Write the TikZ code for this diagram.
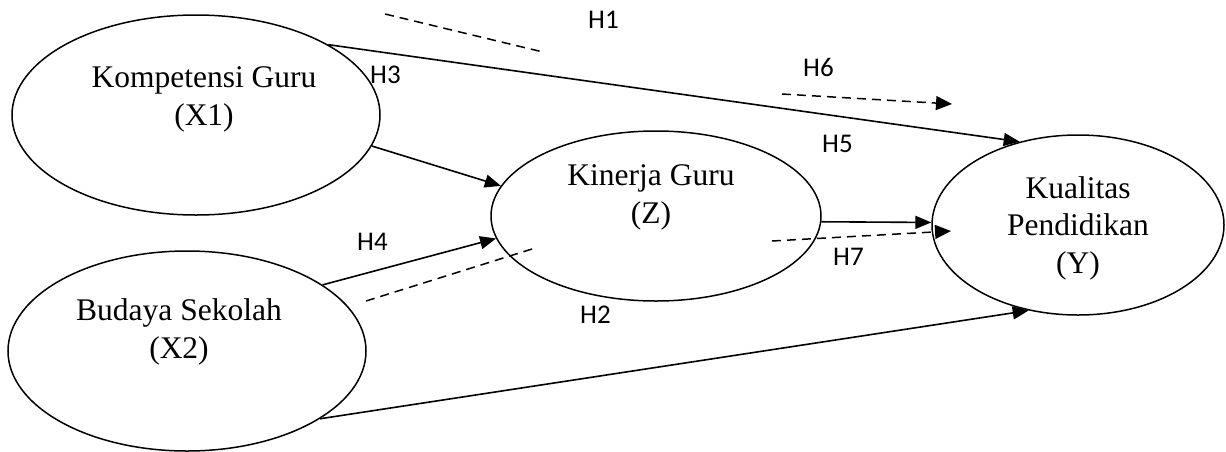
\documentclass[tikz,border=0pt]{standalone}
\usepackage{fontspec}
\setmainfont{Liberation Serif}
\newfontfamily\labelfont{Carlito}
\usetikzlibrary{shapes.geometric,arrows.meta}

\tikzset{
  construct/.style={draw, ellipse, line width=1.5pt, inner sep=0pt},
  ctext/.style={align=center, anchor=base, inner sep=0pt,
    font=\fontsize{31.5}{37.5}\selectfont},
  hyp/.style={anchor=base west, inner sep=0pt,
    font=\labelfont\fontsize{27}{30}\selectfont},
  path/.style={line width=1.6pt, -{Triangle[length=16pt,width=13pt]}},
  dashline/.style={line width=1.5pt, dash pattern=on 9pt off 6pt},
  dasharrow/.style={dashline, -{Triangle[length=16pt,width=14pt]}}
}

\begin{document}
\begin{tikzpicture}[x=1pt, y=-1pt]
  \useasboundingbox (0,0) rectangle (1226,451);

  % latent constructs
  \node[construct, minimum width=368pt, minimum height=200pt] (x1) at (196,115) {};
  \node[construct, minimum width=358pt, minimum height=200pt] (x2) at (187,351) {};
  \node[construct, minimum width=330pt, minimum height=170pt] (z)  at (656,216) {};
  \node[construct, minimum width=292pt, minimum height=180pt] (y)  at (1078,225) {};

  % construct names (anchored at the baseline of the last line)
  \node[ctext] (tx1) at (204,125) {Kompetensi Guru\\(X1)};
  \node[ctext] (tx2) at (179,358) {Budaya Sekolah\\(X2)};
  \node[ctext] (tz)  at (651,223) {Kinerja Guru\\(Z)};
  \node[ctext] (ty)  at (1078,273) {Kualitas\\Pendidikan\\(Y)};

  % direct paths
  \draw[path] (x1.28.6) -- (y.125.2);
  \draw[path] (x1.-10.6) -- (z.169.6);
  \draw[path] (x2.26.4) -- (z.188);
  \draw[path] (z.-2.8) -- (y.179.6);
  \draw[path] (x2.-27.1) -- (y.240.4);

  % dashed indirect-effect markers
  \coordinate (h1a) at (385,14);  \coordinate (h1b) at (543,52);
  \coordinate (h6a) at (782,94);  \coordinate (h6b) at (952,104);
  \coordinate (h2a) at (366,301); \coordinate (h2b) at (532,249);
  \coordinate (h7a) at (772,241); \coordinate (h7b) at (951,231);
  \draw[dashline]  (h1a) -- (h1b);
  \draw[dasharrow] (h6a) -- (h6b);
  \draw[dashline]  (h2a) -- (h2b);
  \draw[dasharrow] (h7a) -- (h7b);

  % hypothesis labels
  \node[hyp] (l1) at (588,28)  {H1};
  \node[hyp] (l3) at (370,83)  {H3};
  \node[hyp] (l6) at (803,76)  {H6};
  \node[hyp] (l5) at (822,152) {H5};
  \node[hyp] (l4) at (357,250) {H4};
  \node[hyp] (l7) at (833,265) {H7};
  \node[hyp] (l2) at (580,323) {H2};
\end{tikzpicture}
\end{document}
